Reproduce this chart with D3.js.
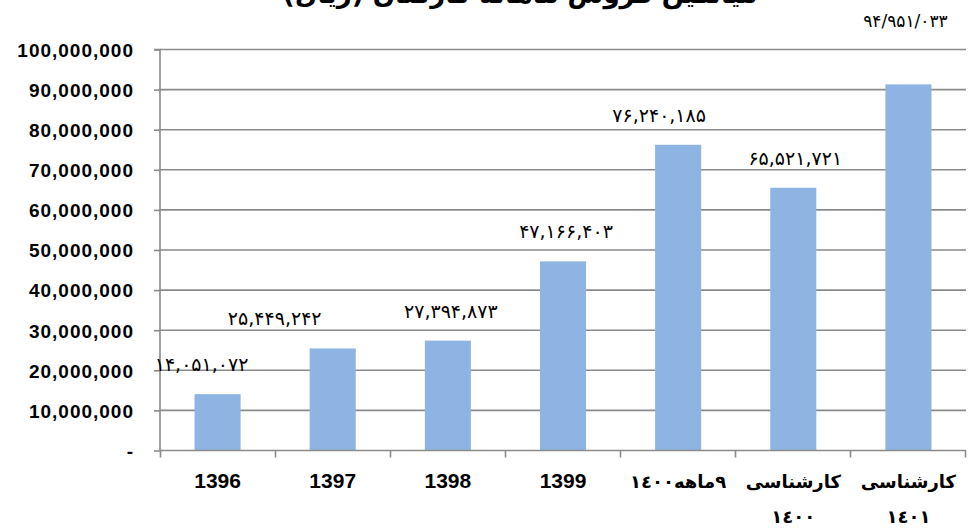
<!DOCTYPE html>
<html><head><meta charset="utf-8">
<script src="https://cdn.jsdelivr.net/npm/d3@7"></script>
<style>
html,body{margin:0;padding:0;background:#fff;}
svg{display:block;}
</style></head>
<body>
<script>
// ---- data ----
const categories = ["1396","1397","1398","1399","۹ماهه١٤٠٠","کارشناسی|١٤٠٠","کارشناسی|١٤٠١"];
const values = [14051072, 25449242, 27394873, 47166403, 76240185, 65521721, 91300000];
const valueLabels = ["۱۴,۰۵۱,۰۷۲","۲۵,۴۴۹,۲۴۲","۲۷,۳۹۴,۸۷۳","۴۷,۱۶۶,۴۰۳","۷۶,۲۴۰,۱۸۵","۶۵,۵۲۱,۷۲۱","۹۴/۹۵۱/۰۳۳"];
const yTicks = [0,10000000,20000000,30000000,40000000,50000000,60000000,70000000,80000000,90000000,100000000];
const title = "میانگین فروش ماهانه کارکنان (ریال)";

// ---- layout ----
const W = 974, H = 532;
const pLeft = 160, pRight = 966, pTop = 49.5, pBottom = 450.5;
// label nudges (layout only)
const labelDx = [-16, -58, 3, 3, -19, 2, -3];

const svg = d3.select("body").append("svg").attr("width", W).attr("height", H);

const x = d3.scaleBand().domain(categories).range([pLeft, pRight]).paddingInner(0.6).paddingOuter(0.3);
const y = d3.scaleLinear().domain([0, 100000000]).range([pBottom, pTop]);

// title (cropped at top as in reference)
svg.append("text")
  .attr("x", 520).attr("y", 3)
  .attr("text-anchor", "middle")
  .attr("direction", "rtl")
  .style("font-family", "'DejaVu Sans', sans-serif")
  .style("font-weight", "bold")
  .style("font-size", "26px")
  .text(title);

// gridlines
svg.append("g").selectAll("line").data(yTicks.slice(1)).join("line")
  .attr("x1", pLeft).attr("x2", pRight)
  .attr("y1", d => y(d)).attr("y2", d => y(d))
  .attr("stroke", "#8a8a8a").attr("stroke-width", 1.6);

// y axis
const yAxis = d3.axisLeft(y).tickValues(yTicks).tickSize(6).tickPadding(20)
  .tickFormat(d => d === 0 ? "-" : d3.format(",")(d));
const gy = svg.append("g").attr("transform", `translate(${pLeft},0)`).call(yAxis);
gy.select(".domain").attr("stroke", "#8a8a8a").attr("stroke-width", 1.6).attr("d", `M-6,${pTop}H0V${pBottom}`);
gy.selectAll(".tick line").attr("stroke", "#8a8a8a").attr("stroke-width", 1.6);
gy.selectAll(".tick text")
  .style("font-family", "'Liberation Sans', Arial, sans-serif")
  .style("font-weight", "bold")
  .style("font-size", "19px")
  .style("letter-spacing", "1px")
  .attr("fill", "#000")
  .attr("dy", "0.36em");

// bars
svg.append("g").selectAll("rect").data(values).join("rect")
  .attr("x", (d, i) => x(categories[i]))
  .attr("width", x.bandwidth())
  .attr("y", d => y(d))
  .attr("height", d => y(0) - y(d))
  .attr("fill", "#8eb4e3");

// x axis
svg.append("line").attr("x1", pLeft).attr("x2", pRight).attr("y1", pBottom).attr("y2", pBottom)
  .attr("stroke", "#8a8a8a").attr("stroke-width", 1.6);
svg.append("g").selectAll("line").data(d3.range(categories.length + 1)).join("line")
  .attr("x1", i => pLeft + 0.5 + i * (pRight - pLeft - 1) / categories.length)
  .attr("x2", i => pLeft + 0.5 + i * (pRight - pLeft - 1) / categories.length)
  .attr("y1", pBottom).attr("y2", pBottom + 7)
  .attr("stroke", "#8a8a8a").attr("stroke-width", 1.6);

// category labels
const cat = svg.append("g").selectAll("text").data(categories).join("text")
  .attr("x", d => x(d) + x.bandwidth() / 2)
  .attr("y", 488)
  .attr("text-anchor", "middle")
  .style("font-weight", "bold")
  .attr("fill", "#000");
cat.each(function(d) {
  const t = d3.select(this);
  const isLatin = /^[0-9]+$/.test(d);
  if (isLatin) {
    t.style("font-family", "'Liberation Sans', Arial, sans-serif").style("font-size", "21px").text(d);
  } else {
    t.style("font-family", "'DejaVu Sans', sans-serif").style("font-size", "18px").attr("direction", "rtl");
    const parts = d.split("|");
    parts.forEach((p, k) => {
      t.append("tspan").attr("x", x(d) + x.bandwidth() / 2).attr("dy", k === 0 ? 0 : 35).text(p);
    });
  }
});

// value labels
svg.append("g").selectAll("text").data(values).join("text")
  .attr("x", (d, i) => x(categories[i]) + x.bandwidth() / 2 + labelDx[i])
  .attr("y", (d, i) => i === values.length - 1 ? 27 : y(d) - 23)
  .attr("text-anchor", "middle")
  .attr("direction", "ltr")
  .style("font-family", "'DejaVu Sans', sans-serif")
  .style("font-size", (d, i) => i === values.length - 1 ? "17px" : "19px")
  .attr("fill", "#000")
  .text((d, i) => valueLabels[i]);
</script>
</body></html>
